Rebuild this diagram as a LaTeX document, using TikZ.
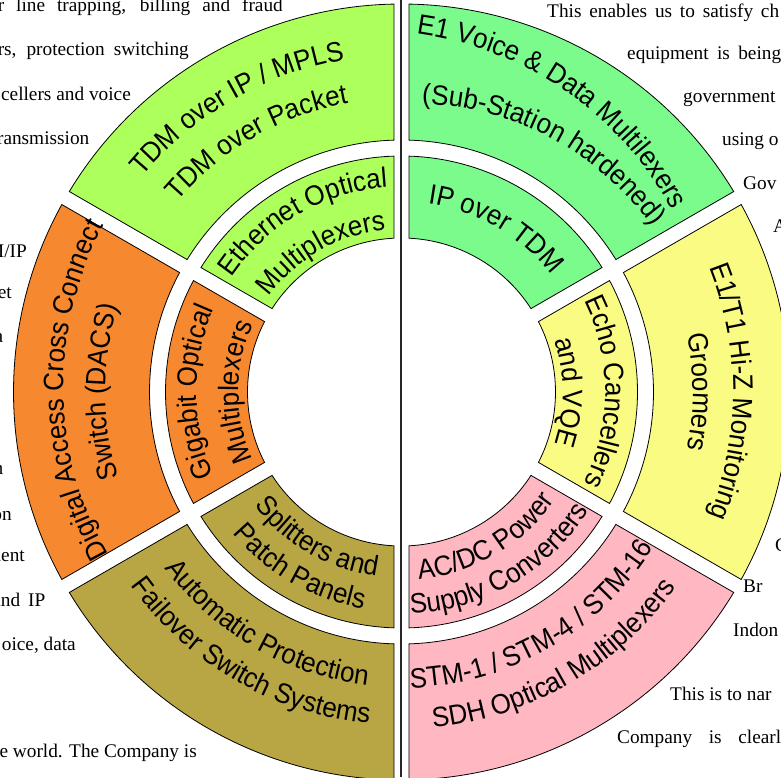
\documentclass[tikz,border=0pt]{standalone}
\usepackage{fontspec}
\setmainfont{Liberation Serif}
\newfontfamily\secfont[FakeStretch=0.93]{Liberation Sans}
\usetikzlibrary{decorations.text}
\definecolor{cLime}{HTML}{ADFF5C}
\definecolor{cGreen}{HTML}{7BFB8C}
\definecolor{cYellow}{HTML}{FAFB83}
\definecolor{cPink}{HTML}{FFB7C2}
\definecolor{cOlive}{HTML}{B8A544}
\definecolor{cOrange}{HTML}{F6882F}
\protected\def\secf{\secfont\fontsize{28}{32}\selectfont}
\newcommand\gapw{7.5}
% sector: a1 a2 rin rout colour
\newcommand\sectorshape[5]{%
  \filldraw[sec, fill=#5] ({#1+asin(\gapw/#4)}:#4)
    arc[start angle={#1+asin(\gapw/#4)}, end angle={#2-asin(\gapw/#4)}, radius=#4]
    -- ({#2-asin(\gapw/#3)}:#3)
    arc[start angle={#2-asin(\gapw/#3)}, end angle={#1+asin(\gapw/#3)}, radius=#3]
    -- cycle;}
% ring text: mid angle, baseline radius, slope (per degree), dir (1 = clockwise), text
\newcommand\ringtext[5]{%
  \pgfmathsetmacro\ta{#1+#4*40}\pgfmathsetmacro\tb{#1-#4*40}%
  \pgfmathsetmacro\ra{#2+#3*#4*40}\pgfmathsetmacro\rb{#2-#3*#4*40}%
  \pgfmathsetmacro\rp{#3*57.2958}\pgfmathsetmacro\hh{0.4848*#4}%
  \path[decorate, decoration={text along path, text={|\secf|#5}, text align=center}]
    (\ta:\ra) .. controls
    ({\ra*cos(\ta)-\hh*(\rp*cos(\ta)-\ra*sin(\ta))},{\ra*sin(\ta)-\hh*(\rp*sin(\ta)+\ra*cos(\ta))})
    and
    ({\rb*cos(\tb)+\hh*(\rp*cos(\tb)-\rb*sin(\tb))},{\rb*sin(\tb)+\hh*(\rp*sin(\tb)+\rb*cos(\tb))})
    .. (\tb:\rb);}
\tikzset{
  sec/.style={draw=black, line width=0.8pt, line join=miter},
  bgtext/.style={inner sep=0pt, font=\fontsize{19.3}{22}\selectfont},
}
\begin{document}
\begin{tikzpicture}[x=1pt, y=1pt]
\useasboundingbox (0,0) rectangle (781,777);
\clip (0,0) rectangle (781,777);
\fill[white] (0,0) rectangle (781,777);
% column rule
\coordinate (vtop) at (401,777);
\coordinate (vbot) at (401,0);
\draw[line width=1.2pt, black!85] (vtop) -- (vbot);
% left column fragments
\node[bgtext, anchor=base east] (l1) at (283,765) {\makebox[285pt][s]{r line trapping, billing and fraud}};
\node[bgtext, anchor=base east] (l2) at (189,721) {\makebox[191pt][s]{rs, protection switching}};
\node[bgtext, anchor=base east] (l3) at (131,676) {cellers and voice};
\node[bgtext, anchor=base east] (l4) at (89.5,632) {ransmission};
\node[bgtext, anchor=base east] (l5) at (27,519) {M/IP};
\node[bgtext, anchor=base east] (l6) at (12,478) {et};
\node[bgtext, anchor=base east] (l7) at (3.5,434) {a};
\node[bgtext, anchor=base east] (l8) at (3.4,303) {h};
\node[bgtext, anchor=base east] (l9) at (12,257) {on};
\node[bgtext, anchor=base east] (l10) at (25,216) {ment};
\node[bgtext, anchor=base east] (l11) at (45.5,171) {\makebox[53pt][s]{and IP}};
\node[bgtext, anchor=base east] (l12) at (76,127) {oice, data};
\node[bgtext, anchor=base east] (l13) at (197,20) {e world. The Company is};
% right column fragments
\node[bgtext, anchor=base west] (r1) at (547,759) {\makebox[232pt][s]{This enables us to satisfy ch}};
\node[bgtext, anchor=base west] (r2) at (627,717) {\makebox[154pt][s]{equipment is being}};
\node[bgtext, anchor=base west] (r3) at (683,674) {government};
\node[bgtext, anchor=base west] (r4) at (722,631) {using o};
\node[bgtext, anchor=base west] (r5) at (743,587) {Gov};
\node[bgtext, anchor=base west] (r6) at (773,544) {A};
\node[bgtext, anchor=base west] (r7) at (775,226) {C};
\node[bgtext, anchor=base west] (r8) at (743,185) {Br};
\node[bgtext, anchor=base west] (r9) at (733,141) {Indon};
\node[bgtext, anchor=base west] (r10) at (670,77) {This is to nar};
\node[bgtext, anchor=base west] (r11) at (617,34) {\makebox[164pt][s]{Company is clearl}};
% ring diagram
\begin{scope}[shift={(401.5,385)}]
\sectorshape{90}{150}{252}{388}{cLime}
\sectorshape{30}{90}{252}{388}{cGreen}
\sectorshape{-30}{30}{252}{388}{cYellow}
\sectorshape{-90}{-30}{252}{388}{cPink}
\sectorshape{-150}{-90}{252}{388}{cOlive}
\sectorshape{150}{210}{252}{388}{cOrange}
\sectorshape{90}{150}{154}{236}{cLime}
\sectorshape{30}{90}{154}{236}{cGreen}
\sectorshape{-30}{30}{154}{236}{cYellow}
\sectorshape{-90}{-30}{154}{236}{cPink}
\sectorshape{-150}{-90}{154}{236}{cOlive}
\sectorshape{150}{210}{154}{236}{cOrange}
% outer ring texts
\ringtext{120}{337}{0}{1}{TDM over IP / MPLS}
\ringtext{120}{294}{0}{1}{TDM over Packet}
\ringtext{60}{342}{0.61}{1}{E1 Voice {\&} Data Multilexers}
\ringtext{60}{294.5}{-0.22}{1}{(Sub-Station hardened)}
\ringtext{0}{332}{0}{1}{E1/T1 Hi-Z Monitoring}
\ringtext{0}{291.5}{0}{1}{Groomers}
\ringtext{180}{338}{-0.1}{1}{Digital Access Cross Connect}
\ringtext{180}{296}{0}{1}{Switch (DACS)}
\ringtext{-60}{296}{0}{-1}{STM-1 / STM-4 / STM-16}
\ringtext{-60}{337}{0}{-1}{SDH Optical Multiplexers}
\ringtext{-120}{295}{0}{-1}{Automatic Protection}
\ringtext{-120}{333}{0}{-1}{Failover Switch Systems}
% inner ring texts
\ringtext{120}{205}{0}{1}{Ethernet Optical}
\ringtext{120}{163}{0}{1}{Multiplexers}
\ringtext{60}{190}{0}{1}{IP over TDM}
\ringtext{0}{204}{0}{1}{Echo Cancellers}
\ringtext{0}{161.5}{0}{1}{and VQE}
\ringtext{180}{205}{0}{1}{Gigabit Optical}
\ringtext{180}{163}{0}{1}{Multiplexers}
\ringtext{-60}{188}{0}{-1}{AC/DC Power}
\ringtext{-60}{222}{0}{-1}{Supply Converters}
\ringtext{-120}{186}{0}{-1}{Splitters and}
\ringtext{-120}{220}{0}{-1}{Patch Panels}
\end{scope}
\end{tikzpicture}
\end{document}
